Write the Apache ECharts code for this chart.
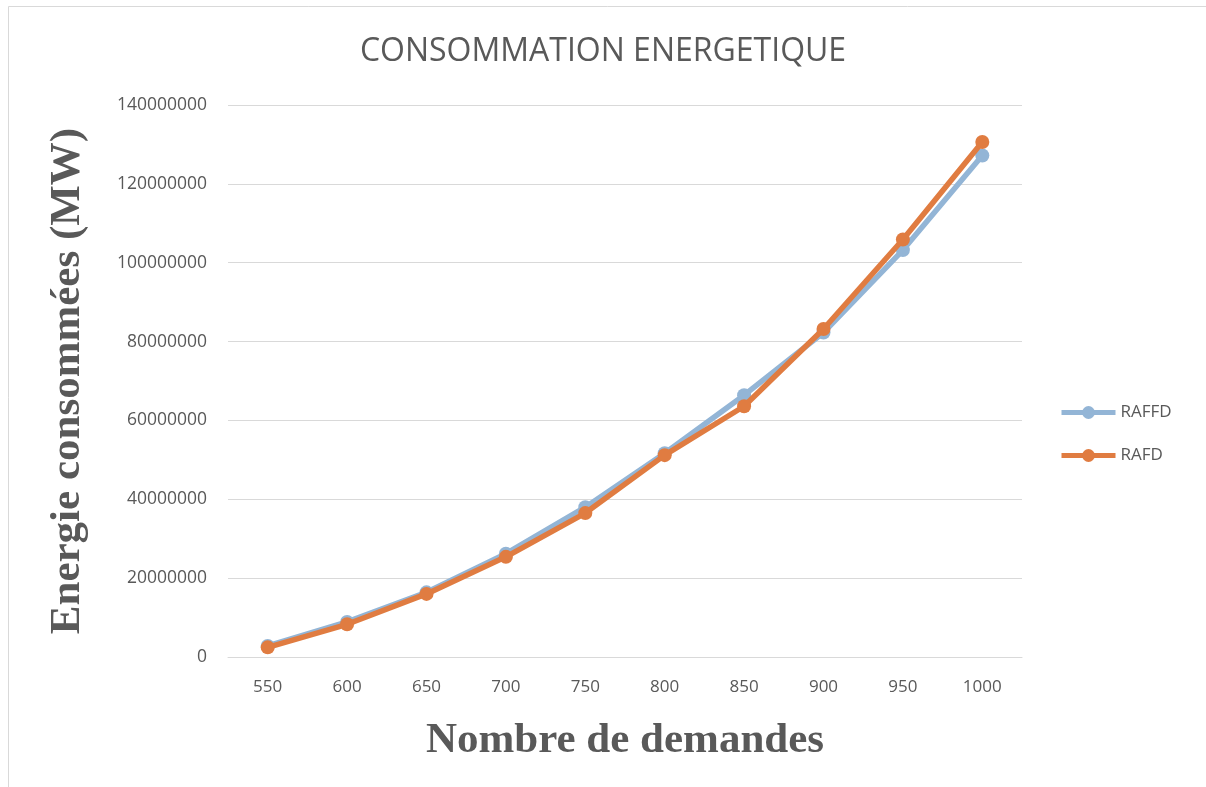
<!DOCTYPE html>
<html>
<head>
<meta charset="utf-8">
<script src="https://cdn.jsdelivr.net/npm/echarts@6/dist/echarts.min.js"></script>
<style>
  html, body { margin: 0; padding: 0; background: #fff; }
  #chart { width: 1206px; height: 787px; }
</style>
</head>
<body>
<div id="chart"></div>
<script>
// Number of requests (x categories)
const demandes = ['550', '600', '650', '700', '750', '800', '850', '900', '950', '1000'];
// Energy consumed (MW) per algorithm
const raffd = [2800000, 8900000, 16400000, 26200000, 38000000, 51700000, 66400000, 82300000, 103200000, 127200000];
const rafd  = [2450000, 8300000, 16000000, 25400000, 36500000, 51200000, 63600000, 83200000, 105900000, 130600000];
// Y axis range
const yMin = 0, yMax = 140000000, yStep = 20000000;

const textGrey = '#595959';
const chart = echarts.init(document.getElementById('chart'), null, { renderer: 'canvas' });

chart.setOption({
  backgroundColor: '#ffffff',
  animation: false,
  graphic: [{
    type: 'rect',
    shape: { x: 8.5, y: 6.5, width: 1220, height: 800 },
    style: { fill: 'none', stroke: '#d9d9d9', lineWidth: 1 },
    silent: true
  }],
  title: {
    text: 'CONSOMMATION ENERGETIQUE',
    left: 'center',
    top: 31,
    textStyle: { fontFamily: 'Open Sans', fontWeight: 'normal', fontSize: 32, color: textGrey }
  },
  legend: {
    orient: 'vertical',
    left: 1054,
    top: 399,
    itemGap: 26,
    itemWidth: 54,
    itemHeight: 16,
    textStyle: { fontFamily: 'Open Sans', fontSize: 17, color: textGrey },
    lineStyle: { width: 5 },
    data: ['RAFFD', 'RAFD']
  },
  grid: { left: 228, right: 184, top: 105, bottom: 130 },
  xAxis: {
    type: 'category',
    data: demandes,
    boundaryGap: true,
    axisLine: { lineStyle: { color: '#d9d9d9', width: 1 } },
    axisTick: { show: false },
    axisLabel: { fontFamily: 'Open Sans', fontSize: 17, color: textGrey, margin: 22 },
    name: 'Nombre de demandes',
    nameLocation: 'middle',
    nameGap: 62,
    nameTextStyle: { fontFamily: 'Liberation Serif', fontWeight: 'bold', fontSize: 43, color: textGrey }
  },
  yAxis: {
    type: 'value',
    min: yMin,
    max: yMax,
    interval: yStep,
    axisLine: { show: false },
    axisTick: { show: false },
    splitLine: { lineStyle: { color: '#d9d9d9', width: 1 } },
    axisLabel: {
      fontFamily: 'Open Sans', fontSize: 17.5, color: textGrey, margin: 21,
      formatter: function (v) { return String(v); }
    },
    name: 'Energie consommées (MW)',
    nameLocation: 'middle',
    nameGap: 139,
    nameTextStyle: { fontFamily: 'Liberation Serif', fontWeight: 'bold', fontSize: 43, color: textGrey }
  },
  series: [
    {
      name: 'RAFFD',
      type: 'line',
      data: raffd,
      symbol: 'circle',
      symbolSize: 14,
      lineStyle: { width: 5.5, color: '#93b5d6' },
      itemStyle: { color: '#93b5d6' },
      z: 2
    },
    {
      name: 'RAFD',
      type: 'line',
      data: rafd,
      symbol: 'circle',
      symbolSize: 14,
      lineStyle: { width: 5.5, color: '#e07c41' },
      itemStyle: { color: '#e07c41' },
      z: 3
    }
  ]
});
</script>
</body>
</html>
